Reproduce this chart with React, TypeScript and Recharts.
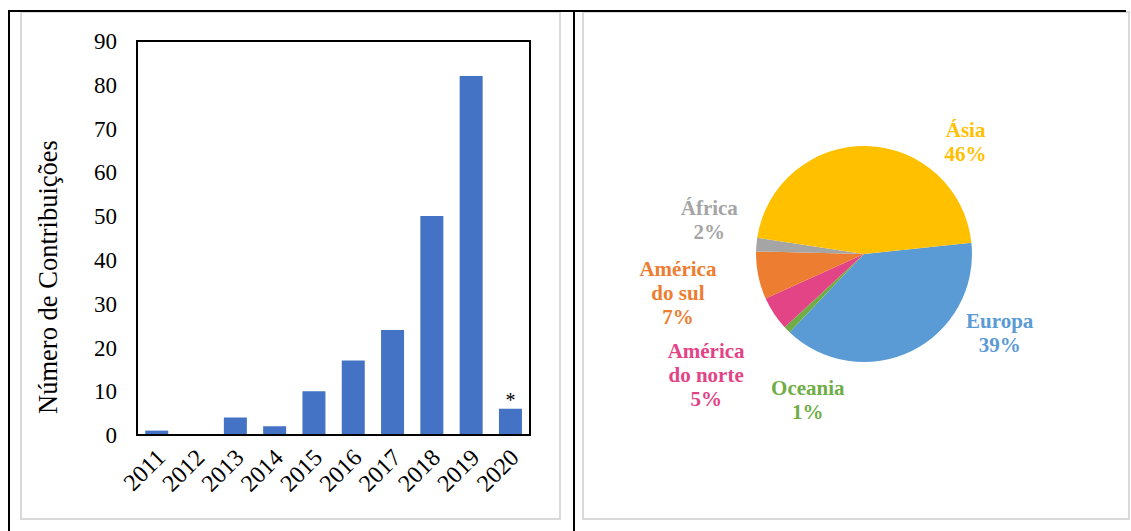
import React from 'react';
import { BarChart, Bar, XAxis, YAxis, Label, LabelList, ReferenceArea, PieChart, Pie, Cell } from 'recharts';

const years = ['2011', '2012', '2013', '2014', '2015', '2016', '2017', '2018', '2019', '2020'];
const contributions = [1, 0, 4, 2, 10, 17, 24, 50, 82, 6];
const notes = ['', '', '', '', '', '', '', '', '', '*'];
const yTicks = [0, 10, 20, 30, 40, 50, 60, 70, 80, 90];

const regions = ['Europa', 'Oceania', 'América do norte', 'América do sul', 'África', 'Ásia'];
const regionCounts = [76, 2, 10, 14, 4, 90];

const regionColors = ['#5B9BD5', '#70AD47', '#E24486', '#ED7D31', '#A5A5A5', '#FFC000'];
// where Excel put each data label: angle (deg) and distance as a multiple of the radius
const labelAngles = [-30.3, -111.1, -142.6, -168.2, 167.7, 47.8];
const labelRadii = [1.455, 1.445, 1.84, 1.76, 1.466, 1.4];

const SERIF = "'Liberation Serif', 'Times New Roman', serif";

const barData = years.map((year, i) => ({ year, value: contributions[i], note: notes[i] }));
const pieData = regions.map((name, i) => ({ name, value: regionCounts[i] }));

function YearTick({ x, y, payload }: any) {
  const tx = x + 10;
  const ty = y + 16;
  return (
    <text x={tx} y={ty} textAnchor="end" fill="#000" style={{ fontFamily: SERIF, fontSize: 24 }}
      transform={`rotate(-45 ${tx} ${ty})`}>
      {payload.value}
    </text>
  );
}

function YTitle({ viewBox }: any) {
  const x = viewBox.x + 27;
  const y = viewBox.y + viewBox.height / 2 + 39;
  return (
    <text x={x} y={y} textAnchor="middle" dominantBaseline="central" fill="#000"
      style={{ fontFamily: SERIF, fontSize: 26.5 }} transform={`rotate(-90 ${x} ${y})`}>
      Número de Contribuições
    </text>
  );
}

function splitName(name: string) {
  const k = name.indexOf(' ');
  return name.length > 8 && k > 0 ? [name.slice(0, k), name.slice(k + 1)] : [name];
}

function renderPieLabel(props: any) {
  const { cx, cy, outerRadius, index, percent } = props;
  const a = (labelAngles[index] * Math.PI) / 180;
  const r = outerRadius * labelRadii[index];
  const x = cx + r * Math.cos(a);
  const y = cy - r * Math.sin(a);
  const lines = [...splitName(regions[index]), `${Math.round(percent * 100)}%`];
  return (
    <text x={x} y={y} textAnchor="middle" fill={regionColors[index]}
      style={{ fontFamily: SERIF, fontSize: 21, fontWeight: 700 }}>
      {lines.map((l, i) => (
        <tspan key={i} x={x} y={y + (i - (lines.length - 1) / 2) * 24 + 7}>{l}</tspan>
      ))}
    </text>
  );
}

const line = (left: number, top: number, width: number, height: number): React.CSSProperties => ({
  position: 'absolute', left, top, width, height, background: '#000',
});

const frame = (left: number, top: number, width: number, height: number): React.CSSProperties => ({
  position: 'absolute', left, top, width, height, border: '2px solid #D9D9D9', boxSizing: 'border-box', background: '#fff',
});

export default function App() {
  return (
    <div style={{ position: 'absolute', left: 0, top: 0, width: 1131, height: 531, background: '#fff', overflow: 'hidden' }}>
      <div style={frame(20, 11, 541, 509)} />
      <div style={frame(582, 11, 548, 509)} />
      <div style={line(8, 10, 1118, 2)} />
      <div style={line(8, 10, 2, 521)} />
      <div style={line(573, 10, 2, 521)} />

      <div style={{ position: 'absolute', left: 21, top: 12 }}>
        <BarChart width={538} height={507} data={barData} margin={{ top: 29, right: 29, left: 0, bottom: 0 }}
          barCategoryGap="21%">
          <XAxis dataKey="year" height={84} tickLine={false} interval={0} tick={<YearTick />}
            axisLine={{ stroke: '#000', strokeWidth: 2 }} />
          <YAxis width={116} domain={[0, 90]} ticks={yTicks} interval={0} tickLine={false} tickSize={0} tickMargin={20}
            tick={{ fontFamily: SERIF, fontSize: 23, fill: '#000' }} axisLine={{ stroke: '#000', strokeWidth: 2 }}>
            <Label content={<YTitle />} />
          </YAxis>
          <ReferenceArea y1={0} y2={90} fill="none" fillOpacity={0} stroke="#000" strokeWidth={2} strokeOpacity={1} />
          <Bar dataKey="value" fill="#4472C4" isAnimationActive={false}>
            <LabelList dataKey="note" position="top" offset={2} fontFamily={SERIF} fontSize={20} fill="#000" />
          </Bar>
        </BarChart>
      </div>

      <div style={{ position: 'absolute', left: 583, top: 12 }}>
        <PieChart width={545} height={507} margin={{ top: 0, right: 0, bottom: 0, left: 0 }}>
          <Pie data={pieData} dataKey="value" nameKey="name" cx={281} cy={242} outerRadius={108}
            startAngle={6} endAngle={-354} stroke="none" label={renderPieLabel} labelLine={false}
            isAnimationActive={false}>
            {pieData.map((d, i) => (
              <Cell key={d.name} fill={regionColors[i]} />
            ))}
          </Pie>
        </PieChart>
      </div>
    </div>
  );
}
